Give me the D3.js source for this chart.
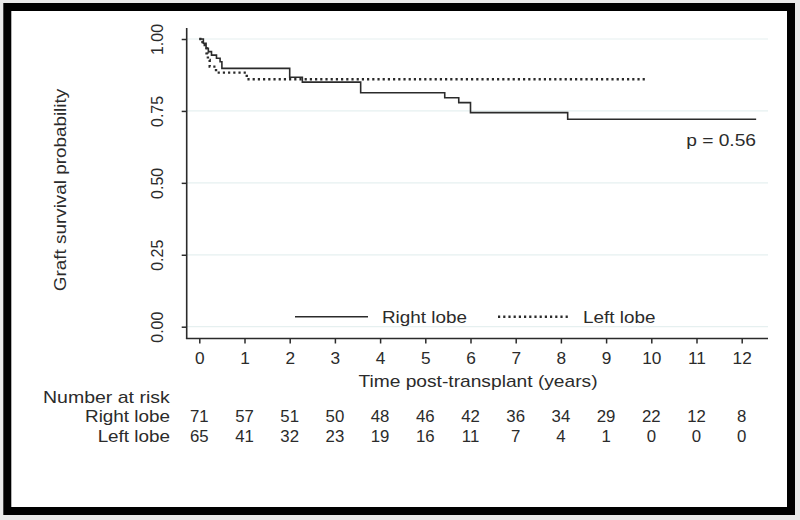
<!DOCTYPE html>
<html><head><meta charset="utf-8">
<script src="https://cdn.jsdelivr.net/npm/d3@7"></script>
<style>
html,body{margin:0;padding:0;background:#e9e9e9;}
svg{display:block;font-family:"Liberation Sans",Arial,sans-serif;}
</style></head>
<body>
<svg id="chart" width="800" height="520"></svg>
<script>
// ---- data ----
const years = [0,1,2,3,4,5,6,7,8,9,10,11,12];
const yTicks = [0, 0.25, 0.5, 0.75, 1];
const yTickLabels = ["0.00","0.25","0.50","0.75","1.00"];
const groups = ["Right lobe","Left lobe"];
const riskRight = [71,57,51,50,48,46,42,36,34,29,22,12,8];
const riskLeft  = [65,41,32,23,19,16,11,7,4,1,0,0,0];
const rightTimes = [0,0.09,0.15,0.20,0.27,0.38,0.46,0.50,2.00,2.28,3.57,5.43,5.74,6.00,8.15,12.32];
const rightSurv  = [1.000,0.985,0.968,0.956,0.944,0.933,0.921,0.898,0.867,0.850,0.813,0.796,0.779,0.744,0.721,0.721];
const leftTimes  = [0,0.07,0.12,0.16,0.19,0.23,0.37,1.05,9.86];
const leftSurv   = [1.000,0.985,0.968,0.950,0.927,0.904,0.883,0.860,0.860];
const pText = "p = 0.56";

// ---- drawing ----
const svg = d3.select("#chart");
const ink = "#2b2b2b";
const sx = 1.2;   // horizontal stretch of the wide original font

svg.append("rect").attr("x",7.3).attr("y",7).attr("width",783.7).attr("height",504)
  .attr("fill","#fff").attr("stroke","#000").attr("stroke-width",8);

const x = d3.scaleLinear().domain([0,12]).range([199.3,741.7]);
const y = d3.scaleLinear().domain([0,1]).range([326.7,39]);
const axisY = 338.5, axisX = 186.7;

// gridlines
svg.append("g").selectAll("line").data(yTicks).join("line")
  .attr("x1",axisX).attr("x2",768).attr("y1",d=>y(d)).attr("y2",d=>y(d))
  .attr("stroke","#e6f0f0").attr("stroke-width",1.2);

// axes
const gx = svg.append("g").attr("transform",`translate(0,${axisY})`)
  .call(d3.axisBottom(x).tickValues(years).tickSize(5).tickPadding(8).tickFormat(d3.format("d")));
gx.select(".domain").remove();
gx.selectAll(".tick line").attr("stroke",ink).attr("stroke-width",1.5);
gx.selectAll(".tick text").attr("fill",ink).attr("font-size",16)
  .attr("y",null).attr("dy",null).attr("transform","translate(0,25.5) scale(1.08,1)");

const gy = svg.append("g").attr("transform",`translate(${axisX},0)`)
  .call(d3.axisLeft(y).tickValues(yTicks).tickSize(5).tickFormat((d,i)=>yTickLabels[i]));
gy.select(".domain").remove();
gy.selectAll(".tick line").attr("stroke",ink).attr("stroke-width",1.5);
gy.selectAll(".tick text").attr("fill",ink).attr("font-size",16)
  .attr("x",null).attr("dy",null).attr("text-anchor","middle")
  .attr("transform","translate(-23.7,0) rotate(-90)");

svg.append("line").attr("x1",axisX).attr("x2",axisX).attr("y1",28).attr("y2",axisY)
  .attr("stroke",ink).attr("stroke-width",1.6);
svg.append("line").attr("x1",axisX-0.8).attr("x2",768).attr("y1",axisY).attr("y2",axisY)
  .attr("stroke",ink).attr("stroke-width",1.6);

// curves
const line = d3.line().curve(d3.curveStepAfter).x(d=>x(d[0])).y(d=>y(d[1]));
svg.append("path").datum(d3.zip(rightTimes,rightSurv)).attr("d",line)
  .attr("fill","none").attr("stroke",ink).attr("stroke-width",1.6);
svg.append("path").datum(d3.zip(leftTimes,leftSurv)).attr("d",line)
  .attr("fill","none").attr("stroke",ink).attr("stroke-width",2.4).attr("stroke-dasharray","2.2,3");

function txt(str, tx, ty, anchor, size, scale, rot){
  return svg.append("text").text(str).attr("fill",ink).attr("font-size",size)
    .attr("text-anchor",anchor)
    .attr("transform",`translate(${tx},${ty})${rot?` rotate(${rot})`:""} scale(${scale},1)`);
}

// titles
txt("Graft survival probability", 66, 190, "middle", 16, 1.18, -90);
txt("Time post-transplant (years)", 478, 386.5, "middle", 16, sx);
txt(pText, 756, 145.5, "end", 16, 1.2);

// legend
svg.append("line").attr("x1",295).attr("x2",368).attr("y1",316.7).attr("y2",316.7)
  .attr("stroke",ink).attr("stroke-width",1.6);
svg.append("line").attr("x1",498).attr("x2",568).attr("y1",316.7).attr("y2",316.7)
  .attr("stroke",ink).attr("stroke-width",2.4).attr("stroke-dasharray","2.2,3");
txt(groups[0], 382, 323.3, "start", 16, 1.18);
txt(groups[1], 583, 323.3, "start", 16, 1.18);

// number at risk table
txt("Number at risk", 43, 403.3, "start", 16, 1.22);
txt(groups[0], 170, 421.7, "end", 16, 1.18);
txt(groups[1], 170, 441.7, "end", 16, 1.18);
svg.append("g").selectAll("text").data(riskRight).join("text")
  .text(d=>d).attr("fill",ink).attr("font-size",16).attr("text-anchor","middle")
  .attr("transform",(d,i)=>`translate(${x(years[i])},421.7) scale(1.05,1)`);
svg.append("g").selectAll("text").data(riskLeft).join("text")
  .text(d=>d).attr("fill",ink).attr("font-size",16).attr("text-anchor","middle")
  .attr("transform",(d,i)=>`translate(${x(years[i])},441.7) scale(1.05,1)`);
</script>
</body></html>
